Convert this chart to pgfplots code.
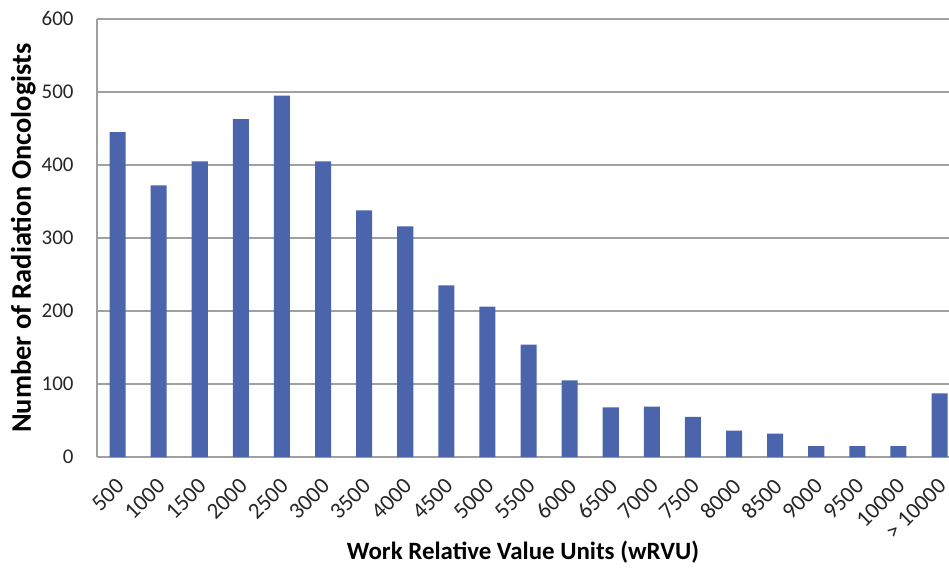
\documentclass[border=0pt]{standalone}
\usepackage{fontspec}
\setmainfont{Carlito}
\usepackage{pgfplots}
\pgfplotsset{compat=1.18}
\definecolor{barblue}{RGB}{74,101,172}
\definecolor{gridgray}{RGB}{160,160,160}
\begin{document}
\begin{tikzpicture}
\begin{axis}[
  at={(0,0)}, anchor=south west,
  scale only axis,
  width=852bp, height=438bp,
  xmin=-0.5, xmax=20.23,
  ymin=0, ymax=600,
  ytick={0,100,...,600},
  xtick={0,...,20},
  xticklabels={500,1000,1500,2000,2500,3000,3500,4000,4500,5000,5500,6000,6500,7000,7500,8000,8500,9000,9500,10000,{> 10000}},
  axis x line*=bottom,
  axis y line*=left,
  axis line style={gridgray, line width=1.2bp},
  ymajorgrids,
  grid style={gridgray, line width=1.2bp},
  major tick length=0pt,
  /pgf/number format/assume math mode=true,
  ticklabel style={font=\fontsize{21}{25}\selectfont, color=black!85},
  yticklabel style={xshift=-20bp},
  xticklabel style={font=\fontsize{23}{27}\selectfont, rotate=45, anchor=north east, inner sep=0pt, xshift=-16bp, yshift=-12bp},
  xlabel={Work Relative Value Units (wRVU)},
  ylabel={Number of Radiation Oncologists},
  xlabel style={font=\bfseries\fontsize{25}{29}\selectfont, at={(axis description cs:0.5,-0.217)}, anchor=center},
  ylabel style={font=\bfseries\fontsize{28.5}{33}\selectfont, at={(axis description cs:-0.0865,0.5)}, anchor=center, rotate=0},
]
\addplot[ybar, bar width=0.39, fill=barblue, draw=none] coordinates {
 (0,445) (1,372) (2,405) (3,463) (4,495) (5,405) (6,338) (7,316) (8,235) (9,206)
 (10,154) (11,105) (12,68) (13,69) (14,55) (15,36) (16,32) (17,15) (18,15) (19,15) (20,87)
};
\end{axis}
\pgfresetboundingbox
\path[use as bounding box] (-97bp,-113bp) rectangle (852bp,457bp);
\end{tikzpicture}
\end{document}
